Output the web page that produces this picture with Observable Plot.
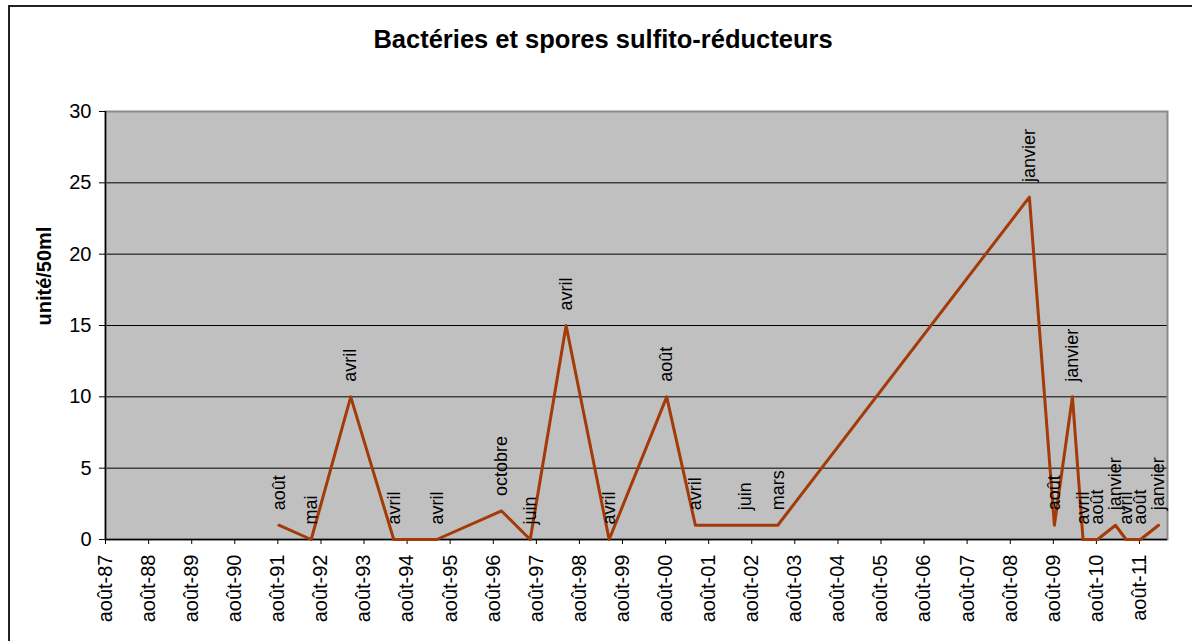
<!DOCTYPE html>
<html>
<head>
<meta charset="utf-8">
<script src="https://cdn.jsdelivr.net/npm/d3@7"></script>
<script src="https://cdn.jsdelivr.net/npm/@observablehq/plot@0.6"></script>
<style>
  html, body { margin: 0; padding: 0; background: #fff; overflow: hidden; }
  #wrap { position: relative; width: 1192px; height: 641px; overflow: hidden; font-family: "Liberation Sans", Arial, sans-serif; }
  #frame { position: absolute; left: 8px; top: 5px; width: 1300px; height: 700px; border: 2px solid #222; box-sizing: border-box; pointer-events: none; }
  #title { position: absolute; left: 8px; width: 1190px; top: 27px; text-align: center; font-weight: bold; font-size: 25.5px; line-height: 25.5px; color: #000; }
  #chart { position: absolute; left: 0; top: 0; }
</style>
</head>
<body>
<div id="wrap">
  <div id="frame"></div>
  <div id="title">Bactéries et spores sulfito-réducteurs</div>
  <div id="chart"></div>
</div>
<script>
// Sample dates (month of measurement)
const sampleDates = ["1991-08-10","1992-05-10","1993-04-10","1994-04-10","1995-04-10","1996-10-10","1997-06-10","1998-04-10","1999-04-10","2000-08-10","2001-04-10","2002-06-10","2003-03-10","2009-01-10","2009-08-10","2010-01-10","2010-04-10","2010-08-10","2011-01-10","2011-04-10","2011-08-10","2012-01-10"];
// Values (unité/50ml)
const sampleValues = [1,0,10,0,0,2,0,15,0,10,1,1,1,24,1,10,0,0,1,0,0,1];
// Month labels shown above each point
const monthLabels = ["août","mai","avril","avril","avril","octobre","juin","avril","avril","août","avril","juin","mars","janvier","août","janvier","avril","août","janvier","avril","août","janvier"];
// X-axis tick years (ticks in August) and labels
const tickYears = [1987,1988,1989,1990,1991,1992,1993,1994,1995,1996,1997,1998,1999,2000,2001,2002,2003,2004,2005,2006,2007,2008,2009,2010,2011];
const tickLabels = ["août-87","août-88","août-89","août-90","août-91","août-92","août-93","août-94","août-95","août-96","août-97","août-98","août-99","août-00","août-01","août-02","août-03","août-04","août-05","août-06","août-07","août-08","août-09","août-10","août-11"];
const yTicks = [0,5,10,15,20,25,30];
const gridValues = [5,10,15,20,25];

const data = sampleDates.map((d, i) => ({date: new Date(d), value: sampleValues[i], label: monthLabels[i]}));
const tickDates = tickYears.map(y => new Date(Date.UTC(y, 7, 1)));
const tickFmt = new Map(tickDates.map((d, i) => [+d, tickLabels[i]]));

const chart = Plot.plot({
  width: 1192,
  height: 641,
  marginLeft: 105,
  marginRight: 25,
  marginTop: 111,
  marginBottom: 102,
  style: {fontFamily: "'Liberation Sans', Arial, sans-serif", fontSize: "20px", color: "#000", background: "transparent", overflow: "visible"},
  x: {type: "utc", domain: [new Date("1987-08-01"), new Date("2012-03-26")]},
  y: {domain: [0, 30]},
  marks: [
    Plot.frame({fill: "#c0c0c0"}),
    Plot.ruleY(gridValues, {stroke: "#000", strokeWidth: 1}),
    Plot.frame({stroke: "#8a8a8a", strokeWidth: 2}),
    Plot.ruleX([tickDates[0]], {stroke: "#000", strokeWidth: 1.5}),
    Plot.ruleY([0], {stroke: "#000", strokeWidth: 1.5}),
    Plot.axisY({ticks: yTicks, tickSize: 6, tickPadding: 8, label: null, stroke: "#000"}),
    Plot.axisX({ticks: tickDates, tickFormat: d => tickFmt.get(+d), tickRotate: -90, tickSize: 5, tickPadding: 10, label: null, stroke: "#000"}),
    Plot.text(["unité/50ml"], {frameAnchor: "left", rotate: -90, dx: -61, fontWeight: "bold", fontSize: 20}),
    Plot.line(data, {x: "date", y: "value", stroke: "#a33a08", strokeWidth: 3}),
    Plot.text(data, {x: "date", y: "value", text: "label", rotate: -90, textAnchor: "start", dy: -15, fontSize: 18, fill: "#000"})
  ]
});
document.getElementById("chart").appendChild(chart);
</script>
</body>
</html>
